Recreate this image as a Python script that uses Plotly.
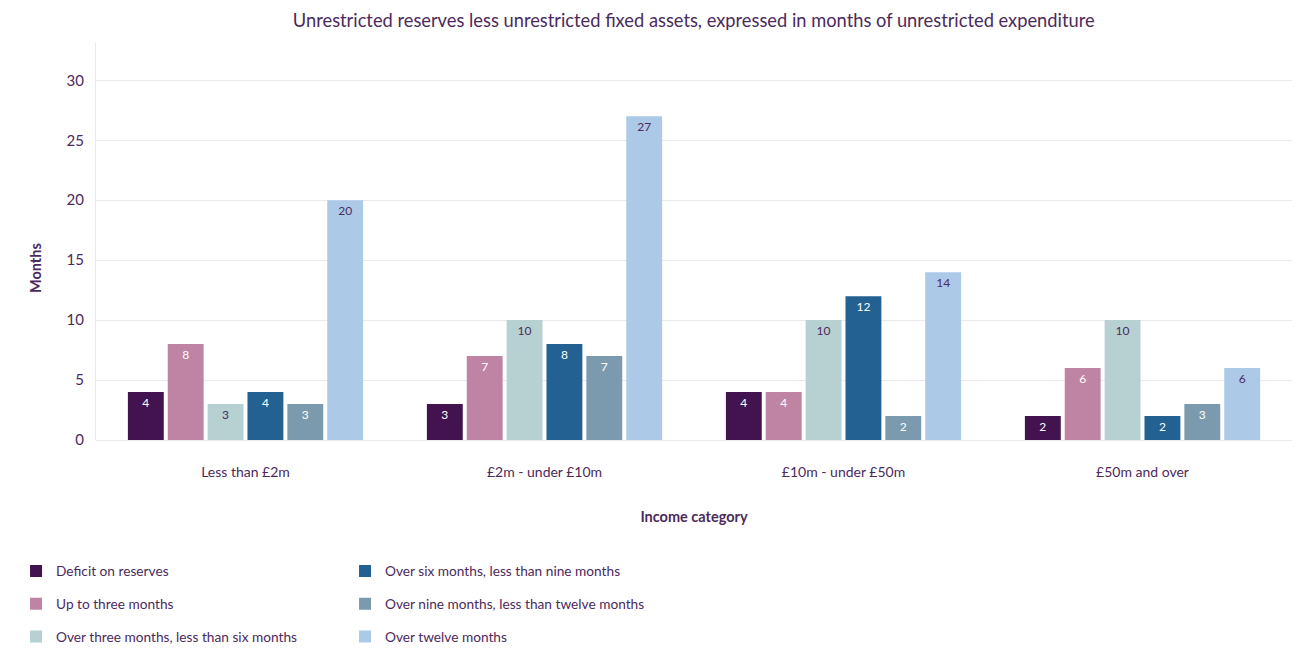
import plotly.graph_objects as go

# Income bands along the x axis
categories = ["Less than £2m", "£2m - under £10m", "£10m - under £50m", "£50m and over"]

# Months of unrestricted expenditure, one list per reserves band
deficit = [4, 3, 4, 2]
up_to_three = [8, 7, 4, 6]
three_to_six = [3, 10, 10, 10]
six_to_nine = [4, 8, 12, 2]
nine_to_twelve = [3, 7, 2, 3]
over_twelve = [20, 27, 14, 6]

series_names = [
    "Deficit on reserves",
    "Up to three months",
    "Over three months, less than six months",
    "Over six months, less than nine months",
    "Over nine months, less than twelve months",
    "Over twelve months",
]
series_values = [deficit, up_to_three, three_to_six, six_to_nine, nine_to_twelve, over_twelve]
colors = ["#42134F", "#BF84A3", "#B7D1D3", "#236192", "#7B9AAE", "#ACCAE8"]
label_colors = ["#FFFFFF", "#FFFFFF", "#4B2A5C", "#FFFFFF", "#FFFFFF", "#4B2A5C"]
legend_ids = ["legend", "legend", "legend", "legend2", "legend2", "legend2"]

TEXT = "#4B2A5C"
FONT = "Lato, 'Noto Sans', sans-serif"

fig = go.Figure()
for i, (name, vals) in enumerate(zip(series_names, series_values)):
    fig.add_trace(go.Bar(
        x=categories,
        y=vals,
        name=name,
        marker=dict(color=colors[i], line=dict(width=0)),
        text=[str(v) for v in vals],
        textposition="inside",
        insidetextanchor="end",
        textangle=0,
        textfont=dict(color=label_colors[i], size=12, family=FONT),
        legend=legend_ids[i],
        legendgroup=name,
        hovertemplate="%{x}<br>" + name + ": %{y}<extra></extra>",
    ))

legend_common = dict(
    orientation="v",
    xref="container",
    yref="container",
    xanchor="left",
    yanchor="top",
    tracegroupgap=12,
    font=dict(size=13.7, color=TEXT, family=FONT),
    bgcolor="rgba(0,0,0,0)",
)

fig.update_layout(
    width=1304,
    height=648,
    margin=dict(l=96, r=12, t=42, b=208, autoexpand=False),
    paper_bgcolor="white",
    plot_bgcolor="white",
    font=dict(family=FONT, color=TEXT),
    title=dict(
        text="Unrestricted reserves less unrestricted fixed assets, expressed in months of unrestricted expenditure",
        x=0.532, xanchor="center", y=0.968, yanchor="middle",
        font=dict(size=18.3, color=TEXT, family=FONT),
    ),
    barmode="group",
    bargap=0.2,
    bargroupgap=0.1,
    uniformtext=dict(minsize=8, mode="show"),
    showlegend=True,
    legend=dict(x=0.0123, y=0.1426, **legend_common),
    legend2=dict(x=0.2646, y=0.1426, **legend_common),
    xaxis=dict(
        title=dict(text="<b>Income category</b>", font=dict(size=14.5, color=TEXT, family=FONT), standoff=32),
        tickfont=dict(size=14, color=TEXT, family=FONT),
        showgrid=False,
        showline=False,
        ticks="",
        ticklabelstandoff=22,
    ),
    yaxis=dict(
        range=[0, 33.2],
        tickvals=[0, 5, 10, 15, 20, 25, 30],
        tickfont=dict(size=15, color=TEXT, family=FONT),
        gridcolor="#ECE8F0",
        gridwidth=1,
        zeroline=True,
        zerolinecolor="#ECE8F0",
        zerolinewidth=1,
        showline=True,
        linecolor="#ECE8F0",
        ticks="",
        ticklabelstandoff=8,
    ),
    annotations=[
        dict(
            text="<b>Months</b>",
            xref="paper", yref="paper",
            x=-0.051, y=0.432,
            xanchor="center", yanchor="middle",
            textangle=-90,
            showarrow=False,
            font=dict(size=14.5, color=TEXT, family=FONT),
        )
    ],
)

fig.write_html("out.html")
